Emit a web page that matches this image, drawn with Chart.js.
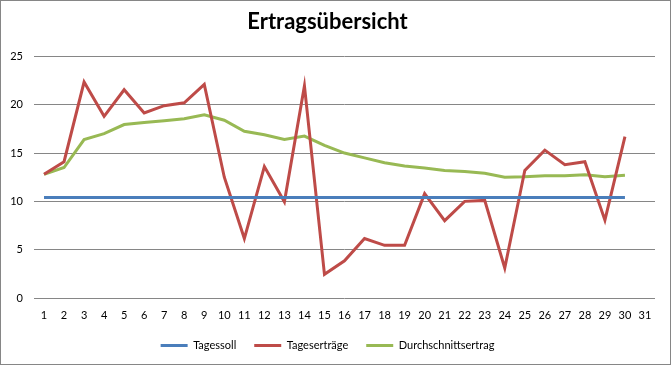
<!DOCTYPE html>
<html>
<head>
<meta charset="utf-8">
<script src="https://cdn.jsdelivr.net/npm/chart.js@4/dist/chart.umd.min.js"></script>
<style>
  html, body { margin: 0; padding: 0; background: #fff; }
  #wrap { width: 671px; height: 365px; position: relative; }
</style>
</head>
<body>
<div id="wrap"><canvas id="myChart" width="671" height="365"></canvas></div>
<script>
// Tage 1..31 (Achse), Werte fuer Tag 1..30
var wDays = ['1','2','3','4','5','6','7','8','9','10','11','12','13','14','15','16','17','18','19','20','21','22','23','24','25','26','27','28','29','30','31']
var wSoll = [10.4,10.4,10.4,10.4,10.4,10.4,10.4,10.4,10.4,10.4,10.4,10.4,10.4,10.4,10.4,10.4,10.4,10.4,10.4,10.4,10.4,10.4,10.4,10.4,10.4,10.4,10.4,10.4,10.4,10.4]
var wErtraege = [12.8,14.1,22.35,18.8,21.55,19.15,19.9,20.2,22.1,12.5,6.15,13.6,9.95,21.95,2.45,3.85,6.15,5.45,5.45,10.8,8.0,10.0,10.1,3.1,13.2,15.3,13.8,14.1,8.05,16.7]
var wSchnitt = [12.8,13.5,16.4,17.0,17.95,18.15,18.35,18.55,18.95,18.4,17.25,16.9,16.4,16.75,15.8,15.0,14.5,14.0,13.65,13.45,13.2,13.1,12.9,12.5,12.55,12.65,12.65,12.75,12.55,12.7]
var wYTicks = [0, 5, 10, 15, 20, 25]

var wFont = 'Lato, "Liberation Sans", sans-serif'

// weisser Hintergrund + grauer Rahmen
var framePlugin = {
    id: 'frame',
    beforeDraw: function (chart) {
        var ctx = chart.ctx
        ctx.save()
        ctx.fillStyle = '#ffffff'
        ctx.fillRect(0, 0, chart.width, chart.height)
        ctx.strokeStyle = '#868686'
        ctx.lineWidth = 1
        ctx.strokeRect(0.5, 0.5, chart.width - 1, chart.height - 1)
        ctx.restore()
    }
}

function mkSet(label, data, color) {
    return {
        label: label,
        data: data,
        borderColor: color,
        backgroundColor: color,
        borderWidth: 3,
        pointRadius: 0,
        pointHoverRadius: 0,
        tension: 0,
        fill: false
    }
}

var ctx = document.getElementById('myChart').getContext('2d');
var myChart = new Chart(ctx, {
    type: 'line',
    data: {
        labels: wDays,
        datasets: [
            mkSet('Tagessoll', wSoll, '#4A7EBB'),
            mkSet('Tageserträge', wErtraege, '#BE4B48'),
            mkSet('Durchschnittsertrag', wSchnitt, '#98B954')
        ]
    },
    options: {
        responsive: false,
        animation: false,
        layout: { padding: { left: 0, right: 16, top: 0, bottom: 4 } },
        plugins: {
            tooltip: { enabled: false },
            title: {
                display: true,
                text: 'Ertragsübersicht',
                color: '#000',
                font: { family: wFont, size: 22, weight: 'bold' },
                padding: { top: 9, bottom: 21 }
            },
            legend: {
                position: 'bottom',
                labels: {
                    color: '#000',
                    font: { family: wFont, size: 11 },
                    usePointStyle: true,
                    pointStyle: 'line',
                    pointStyleWidth: 27,
                    padding: 18
                }
            }
        },
        scales: {
            x: {
                offset: true,
                grid: { display: false, drawTicks: false },
                border: { display: false },
                ticks: {
                    color: '#000',
                    font: { family: wFont, size: 11 },
                    padding: 11,
                    maxRotation: 0,
                    autoSkip: false
                },
                afterFit: function (scale) { scale.height = 24 }
            },
            y: {
                min: 0,
                max: 25,
                afterBuildTicks: function (scale) {
                    scale.ticks = wYTicks.map(function (v) { return { value: v } })
                },
                grid: { color: '#868686', drawTicks: false },
                border: { display: false },
                ticks: {
                    color: '#000',
                    font: { family: wFont, size: 11 },
                    padding: 11
                },
                afterFit: function (scale) { scale.width = 34 }
            }
        }
    },
    plugins: [framePlugin]
});
</script>
</body>
</html>
